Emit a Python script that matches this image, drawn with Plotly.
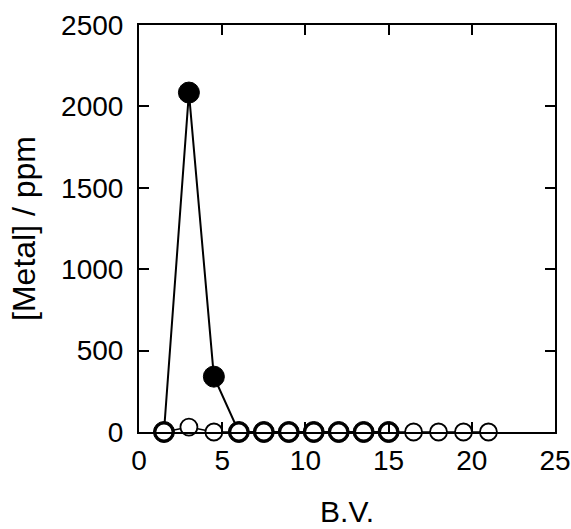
import plotly.graph_objects as go

# Data
bv_filled = [1.5, 3, 4.5, 6, 7.5, 9, 10.5, 12, 13.5, 15]
metal_filled = [0, 2085, 340, 0, 0, 0, 0, 0, 0, 0]

bv_open = [1.5, 3, 4.5, 6, 7.5, 9, 10.5, 12, 13.5, 15, 16.5, 18, 19.5, 21]
metal_open = [0, 30, 0, 0, 0, 0, 0, 0, 0, 0, 0, 0, 0, 0]

x_ticks = [0, 5, 10, 15, 20, 25]
y_ticks = [0, 500, 1000, 1500, 2000, 2500]

FONT = "Liberation Sans, Arial, Helvetica, sans-serif"

fig = go.Figure()
fig.add_trace(go.Scatter(
    x=bv_filled, y=metal_filled, mode="lines+markers",
    line=dict(color="black", width=2),
    marker=dict(size=21, color="black", line=dict(color="black", width=1)),
    showlegend=False, cliponaxis=False,
))
fig.add_trace(go.Scatter(
    x=bv_open, y=metal_open, mode="lines+markers",
    line=dict(color="black", width=1.5),
    marker=dict(size=17, color="white", line=dict(color="black", width=1.8)),
    showlegend=False, cliponaxis=False,
))

axis_common = dict(
    showline=True, linecolor="black", linewidth=2, mirror="ticks",
    ticks="inside", ticklen=10, tickwidth=2, tickcolor="black",
    showgrid=False, zeroline=False, automargin=False,
    tickfont=dict(family=FONT, size=28, color="black"),
)

fig.update_layout(
    template="none",
    width=571, height=529,
    margin=dict(l=139, r=16, t=25, b=97),
    paper_bgcolor="white", plot_bgcolor="white",
    xaxis=dict(range=[0, 25], tickvals=x_ticks, ticklabelstandoff=2,
               title=dict(text="B.V.", font=dict(family=FONT, size=30, color="black"), standoff=26),
               **axis_common),
    yaxis=dict(range=[0, 2500], tickvals=y_ticks, ticklabelstandoff=8,
               title=dict(text="[Metal] / ppm", font=dict(family=FONT, size=32, color="black"), standoff=16),
               **axis_common),
)

fig.write_html(
    "out.html",
    config={"displayModeBar": False},
    post_script="document.body.style.margin='0';document.body.style.overflow='hidden';",
)
